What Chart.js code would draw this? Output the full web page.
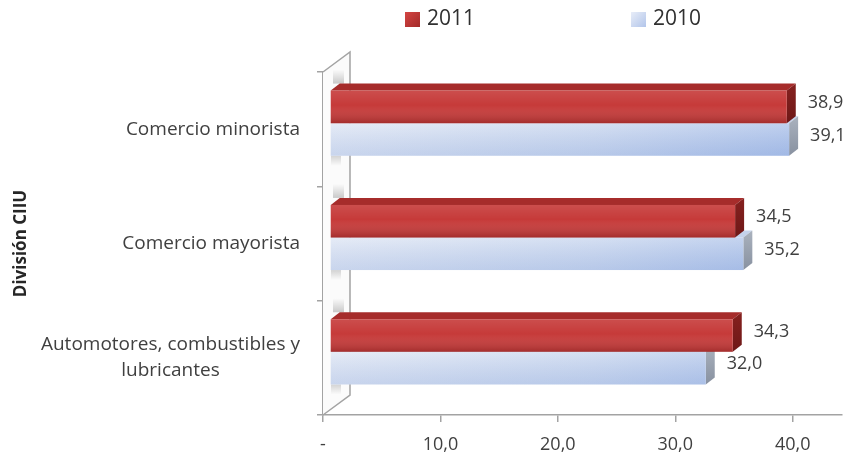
<!DOCTYPE html>
<html>
<head>
<meta charset="utf-8">
<title>División CIIU 2010-2011</title>
<script src="https://cdn.jsdelivr.net/npm/chart.js@4.4.1/dist/chart.umd.min.js"></script>
<style>
  html, body { margin: 0; padding: 0; background: #ffffff; }
  #wrap { width: 854px; height: 455px; }
</style>
</head>
<body>
<div id="wrap"><canvas id="chart" width="854" height="455"></canvas></div>
<script>
// ---- data ----
const categories = ['Comercio minorista', 'Comercio mayorista', ['Automotores, combustibles y', 'lubricantes']];
const seriesNames = ['2011', '2010'];
const values2011 = [38.9, 34.5, 34.3];
const values2010 = [39.1, 35.2, 32.0];
const xTickValues = [0, 10, 20, 30, 40];
const xTickLabels = ['-', '10,0', '20,0', '30,0', '40,0'];
const axisTitle = 'División CIIU';

// ---- style ----
const FONT = "'Open Sans', 'Noto Sans', 'DejaVu Sans', sans-serif";
const TEXT = '#404040';
const LINE = '#a3a3a3';
const SHIFT = { x: 7, y: -6 };    // bars sit a little inside the 3D box
const FACE = { x: 9, y: 7 };      // depth of each bar
const WALL = { x: 27, y: 20 };    // depth of the side wall

const fmt = v => v.toFixed(1).replace('.', ',');

function box(el) {
  const h = el.height;
  return { l: Math.min(el.base, el.x), r: Math.max(el.base, el.x), t: el.y - h / 2, b: el.y + h / 2 };
}

function blueFill(c) {
  const { ctx, chartArea } = c.chart;
  if (!chartArea) return '#c9d6ee';
  const g = ctx.createLinearGradient(chartArea.left, 0, chartArea.right - 40, 0);
  g.addColorStop(0, '#e0e7f4');
  g.addColorStop(0.55, '#cbd8ef');
  g.addColorStop(1, '#aec3ea');
  return g;
}

const faceStyle = [
  { top: '#a62c2b', sideA: '#86211f', sideB: '#6e1817' },
  { top: '#c4d2eb', sideA: '#aab2be', sideB: '#8891a0' }
];

// side wall of the 3D box, with soft shadows cast by the bars
const wallPlugin = {
  id: 'wall',
  beforeDatasetsDraw(chart) {
    const { ctx, chartArea: a } = chart;
    const x0 = a.left;
    ctx.save();
    ctx.beginPath();
    ctx.moveTo(x0, a.top);
    ctx.lineTo(x0 + WALL.x, a.top - WALL.y);
    ctx.lineTo(x0 + WALL.x, a.bottom - WALL.y);
    ctx.lineTo(x0, a.bottom);
    ctx.closePath();
    ctx.fillStyle = '#fbfbfb';
    ctx.fill();

    const m0 = chart.getDatasetMeta(0).data, m1 = chart.getDatasetMeta(1).data;
    m0.forEach((el, i) => {
      const top = box(el).t + SHIFT.y - FACE.y;
      const bot = box(m1[i]).b + SHIFT.y;
      let g = ctx.createLinearGradient(0, top - 14, 0, top);
      g.addColorStop(0, 'rgba(0,0,0,0)');
      g.addColorStop(1, 'rgba(0,0,0,0.20)');
      ctx.fillStyle = g;
      ctx.fillRect(x0 + 10, top - 14, 11, 14);
      g = ctx.createLinearGradient(0, bot, 0, bot + 10);
      g.addColorStop(0, 'rgba(0,0,0,0.16)');
      g.addColorStop(1, 'rgba(0,0,0,0)');
      ctx.fillStyle = g;
      ctx.fillRect(x0 + 8, bot, 10, 10);
    });

    ctx.strokeStyle = LINE;
    ctx.lineWidth = 1.5;
    ctx.beginPath();
    ctx.moveTo(x0, a.top);
    ctx.lineTo(x0 + WALL.x, a.top - WALL.y);
    ctx.lineTo(x0 + WALL.x, a.bottom - WALL.y);
    ctx.lineTo(x0, a.bottom);
    ctx.stroke();
    ctx.restore();

    ctx.save();
    ctx.translate(SHIFT.x, SHIFT.y);
  },
  beforeDatasetDraw(chart, args) {
    const ctx = chart.ctx;
    const s = faceStyle[args.index];
    args.meta.data.forEach(el => {
      const { l, r, t, b } = box(el);
      ctx.beginPath();
      ctx.moveTo(l, t);
      ctx.lineTo(l + FACE.x, t - FACE.y);
      ctx.lineTo(r + FACE.x, t - FACE.y);
      ctx.lineTo(r, t);
      ctx.closePath();
      ctx.fillStyle = s.top;
      ctx.fill();
      const g = ctx.createLinearGradient(0, t - FACE.y, 0, b);
      g.addColorStop(0, s.sideA);
      g.addColorStop(1, s.sideB);
      ctx.beginPath();
      ctx.moveTo(r, t);
      ctx.lineTo(r + FACE.x, t - FACE.y);
      ctx.lineTo(r + FACE.x, b - FACE.y);
      ctx.lineTo(r, b);
      ctx.closePath();
      ctx.fillStyle = g;
      ctx.fill();
    });
  },
  afterDatasetDraw(chart, args) {
    const ctx = chart.ctx;
    args.meta.data.forEach(el => {
      const { l, r, t, b } = box(el);
      const g = ctx.createLinearGradient(0, t, 0, b);
      if (args.index === 0) {
        g.addColorStop(0, 'rgba(255,255,255,0.10)');
        g.addColorStop(0.45, 'rgba(255,255,255,0)');
        g.addColorStop(1, 'rgba(60,0,0,0.25)');
      } else {
        g.addColorStop(0, 'rgba(255,255,255,0.20)');
        g.addColorStop(1, 'rgba(80,120,200,0.16)');
      }
      ctx.fillStyle = g;
      ctx.fillRect(l, t, r - l, b - t);
    });
  },
  afterDatasetsDraw(chart) {
    const ctx = chart.ctx;
    ctx.restore();
    // value labels
    ctx.save();
    ctx.font = `18px ${FONT}`;
    ctx.fillStyle = TEXT;
    ctx.textAlign = 'left';
    ctx.textBaseline = 'middle';
    chart.data.datasets.forEach((ds, di) => {
      chart.getDatasetMeta(di).data.forEach((el, i) => {
        ctx.fillText(fmt(ds.data[i]), el.x + SHIFT.x + FACE.x + 12, el.y + SHIFT.y - 4);
      });
    });
    ctx.restore();
  }
};

// category names: block right-aligned to the axis, lines centred within the block
const categoryLabels = {
  id: 'categoryLabels',
  afterDraw(chart) {
    const { ctx, chartArea: a } = chart;
    const ys = chart.scales.y;
    const lh = 26;
    ctx.save();
    ctx.font = `19px ${FONT}`;
    ctx.fillStyle = TEXT;
    ctx.textAlign = 'center';
    ctx.textBaseline = 'middle';
    categories.forEach((lab, i) => {
      const lines = Array.isArray(lab) ? lab : [lab];
      const w = Math.max(...lines.map(s => ctx.measureText(s).width));
      const cx = a.left - 23 - w / 2;
      const cy = ys.getPixelForTick(i);
      lines.forEach((s, k) => ctx.fillText(s, cx, cy - (lines.length - 1) * lh / 2 + k * lh));
    });
    ctx.restore();
  }
};

// series key across the top
const seriesKey = {
  id: 'seriesKey',
  afterDraw(chart) {
    const ctx = chart.ctx;
    const spots = [{ bx: 405, tx: 427 }, { bx: 631, tx: 653 }];
    ctx.save();
    chart.data.datasets.forEach((ds, i) => {
      const p = spots[i];
      const g = ctx.createLinearGradient(p.bx, 12, p.bx + 15, 27);
      if (i === 0) { g.addColorStop(0, '#d44543'); g.addColorStop(1, '#a32a29'); }
      else { g.addColorStop(0, '#e8edf8'); g.addColorStop(1, '#b2c5ea'); }
      ctx.fillStyle = g;
      ctx.fillRect(p.bx, 12, 15, 15);
      ctx.font = `21px ${FONT}`;
      ctx.fillStyle = '#303030';
      ctx.textAlign = 'left';
      ctx.textBaseline = 'middle';
      ctx.fillText(ds.label, p.tx, 19.5);
    });
    ctx.restore();
  }
};

new Chart(document.getElementById('chart'), {
  type: 'bar',
  data: {
    labels: categories,
    datasets: [
      { label: seriesNames[0], data: values2011, backgroundColor: '#c63a39', borderWidth: 0 },
      { label: seriesNames[1], data: values2010, backgroundColor: blueFill, borderWidth: 0 }
    ]
  },
  options: {
    indexAxis: 'y',
    responsive: false,
    animation: false,
    events: [],
    clip: false,
    categoryPercentage: 0.57,
    barPercentage: 1,
    layout: { padding: { top: 72, right: 12, bottom: 0, left: 0 } },
    plugins: { legend: { display: false }, tooltip: { enabled: false } },
    scales: {
      x: {
        min: 0,
        max: 44.2,
        afterBuildTicks: s => { s.ticks = xTickValues.map(v => ({ value: v })); },
        afterFit: s => { s.height = 40; },
        border: { display: true, color: LINE, width: 1.5 },
        grid: { drawOnChartArea: false, drawTicks: true, tickLength: 7, tickColor: LINE, lineWidth: 1.5 },
        ticks: {
          padding: 12,
          maxRotation: 0,
          autoSkip: false,
          color: TEXT,
          font: { family: FONT, size: 18 },
          callback: (v, i) => xTickLabels[i]
        }
      },
      y: {
        type: 'category',
        offset: true,
        afterFit: s => { s.width = 323; },
        border: { display: true, color: LINE, width: 1.5 },
        grid: { offset: true, drawOnChartArea: false, drawTicks: true, tickLength: 6, tickColor: LINE, lineWidth: 1.5 },
        ticks: { display: false },
        title: {
          display: true,
          text: axisTitle,
          color: '#262626',
          font: { family: FONT, size: 17, weight: 'bold' },
          padding: { top: 11, bottom: 0 }
        }
      }
    }
  },
  plugins: [wallPlugin, categoryLabels, seriesKey]
});
</script>
</body>
</html>
